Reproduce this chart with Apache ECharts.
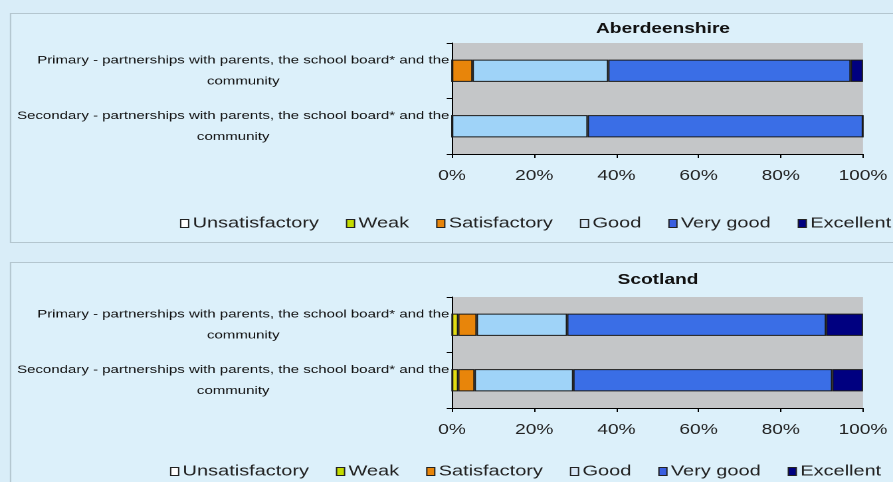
<!DOCTYPE html>
<html>
<head>
<meta charset="utf-8">
<script src="https://cdn.jsdelivr.net/npm/echarts@6/dist/echarts.min.js"></script>
<style>
html,body{margin:0;padding:0;background:#d9edf8;overflow:hidden;}
#wrap{width:893px;height:482px;overflow:hidden;}
#c{width:672px;height:482px;transform:scaleX(1.32887);transform-origin:0 0;}
</style>
</head>
<body>
<div id="wrap"><div id="c"></div></div>
<script>
var categories = [
  'Primary - partnerships with parents, the school board* and the\ncommunity',
  'Secondary - partnerships with parents, the school board* and the\ncommunity'
];
var seriesNames = ['Unsatisfactory', 'Weak', 'Satisfactory', 'Good', 'Very good', 'Excellent'];
var panelTitles = ['Aberdeenshire', 'Scotland'];
var tickLabels = ['0%', '20%', '40%', '60%', '80%', '100%'];

// percentages per category [Primary, Secondary]
var aberUnsatisfactory = [0, 0];
var aberWeak = [0, 0];
var aberSatisfactory = [5, 0];
var aberGood = [33, 33];
var aberVeryGood = [59, 67];
var aberExcellent = [3, 0];

var scotUnsatisfactory = [0, 0];
var scotWeak = [1.5, 1.5];
var scotSatisfactory = [4.5, 4];
var scotGood = [22, 24];
var scotVeryGood = [63, 63];
var scotExcellent = [9, 7.5];

var colors = ['#ffffff', '#e2dc12', '#e8850a', '#9fd3f8', '#3a6ee6', '#000080'];
var legendColors = ['#ffffff', '#c4dc00', '#e8850a', '#d6e6f6', '#3a5fe0', '#000080'];

var aberData = [aberUnsatisfactory, aberWeak, aberSatisfactory, aberGood, aberVeryGood, aberExcellent];
var scotData = [scotUnsatisfactory, scotWeak, scotSatisfactory, scotGood, scotVeryGood, scotExcellent];

var K = 893 / 672; // horizontal stretch applied by CSS
function X(px) { return px / K; }

var chart = echarts.init(document.getElementById('c'), null, {renderer: 'canvas', devicePixelRatio: 2});
var font = 'Liberation Sans';

function yAxis(gi) {
  return {
    type: 'category', gridIndex: gi, inverse: true, data: categories,
    axisLine: {show: true, lineStyle: {color: '#000', width: 1}},
    axisTick: {show: true, length: 4, lineStyle: {color: '#000'}},
    axisLabel: {
      margin: 2, color: '#111', fontFamily: font, fontSize: 11.3, lineHeight: 21,
      formatter: function (v) {
        return v.split('\n').map(function (l) { return '{a|' + l + '}'; }).join('\n');
      },
      rich: {a: {align: 'center', fontFamily: font, fontSize: 11.3, color: '#111', lineHeight: 21}}
    }
  };
}
function xAxis(gi) {
  return {
    type: 'value', gridIndex: gi, min: 0, max: 100, interval: 20,
    axisLine: {show: true, lineStyle: {color: '#000', width: 1}},
    axisTick: {show: true, length: 4, lineStyle: {color: '#000'}},
    splitLine: {show: false},
    axisLabel: {
      margin: 15, color: '#222', fontFamily: font, fontSize: 14.4,
      formatter: function (v) { return tickLabels[Math.round(v / 20)]; }
    }
  };
}
function legend(left, top) {
  return {
    data: seriesNames.map(function (n, i) {
      return {name: n, itemStyle: {color: legendColors[i], borderColor: '#222', borderWidth: 1}};
    }),
    left: X(left), top: top, width: 1000, icon: 'rect', itemWidth: 6, itemHeight: 8, itemGap: X(27),
    padding: 0,
    textStyle: {fontFamily: font, fontSize: 15, color: '#222', padding: [0, 0, 0, -2]},
    selectedMode: false
  };
}

var series = [];
[aberData, scotData].forEach(function (set, gi) {
  set.forEach(function (vals, si) {
    series.push({
      name: seriesNames[si], type: 'bar', stack: 's' + gi,
      xAxisIndex: gi, yAxisIndex: gi, data: vals,
      barWidth: '40%',
      itemStyle: {color: colors[si], borderColor: '#1a1a1a', borderWidth: 1},
      emphasis: {disabled: true}
    });
  });
});

var option = {
  animation: false,
  backgroundColor: '#d9edf8',
  graphic: [
    {type: 'rect', shape: {x: X(10.5), y: 13.5, width: 700, height: 229}, style: {fill: '#dcf0fa', stroke: '#b4c6cf', lineWidth: 1}, z: -10},
    {type: 'rect', shape: {x: X(10.5), y: 262.5, width: 700, height: 240}, style: {fill: '#dcf0fa', stroke: '#b4c6cf', lineWidth: 1}, z: -10}
  ],
  title: [
    {text: panelTitles[0], left: X(663), top: 22, textAlign: 'center', padding: 0, textStyle: {fontFamily: font, fontSize: 14.4, fontWeight: 'bold', color: '#111'}},
    {text: panelTitles[1], left: X(658), top: 273, textAlign: 'center', padding: 0, textStyle: {fontFamily: font, fontSize: 14.4, fontWeight: 'bold', color: '#111'}}
  ],
  legend: [legend(180, 216), legend(170, 464)],
  grid: [
    {left: X(452), right: X(30), top: 43, height: 111, show: true, backgroundColor: '#c4c6c8', borderWidth: 0},
    {left: X(452), right: X(30), top: 297, height: 111, show: true, backgroundColor: '#c4c6c8', borderWidth: 0}
  ],
  xAxis: [xAxis(0), xAxis(1)],
  yAxis: [yAxis(0), yAxis(1)],
  series: series
};
chart.setOption(option);
</script>
</body>
</html>
